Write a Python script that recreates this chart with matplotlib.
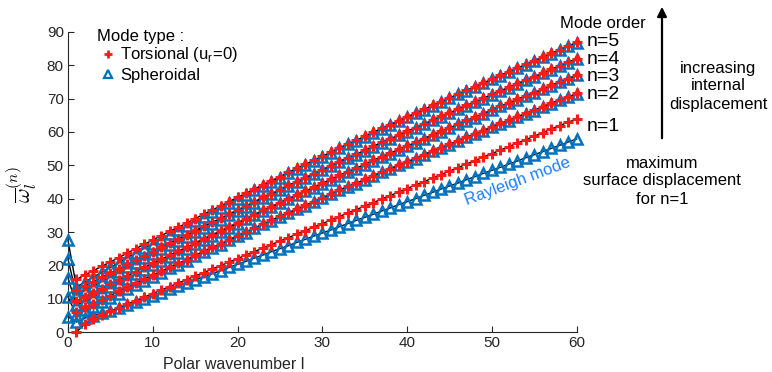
import numpy as np
import matplotlib
matplotlib.use("Agg")
import matplotlib.pyplot as plt
from matplotlib.lines import Line2D

plt.rcParams['font.family'] = ['Liberation Sans', 'DejaVu Sans']
plt.rcParams['mathtext.fontset'] = 'custom'
plt.rcParams['mathtext.rm'] = 'Liberation Sans'

# ---- data ----
l_sph = list(range(0, 61))      # spheroidal modes exist from l = 0
l_tor = list(range(1, 61))      # torsional modes from l = 1

tor_n1 = [0, 2.4, 3.9, 5.2, 6.3, 7.3, 8.4, 9.4, 10.5, 11.5, 12.6, 13.6, 14.7, 15.7, 16.8, 17.8,
          18.9, 19.9, 21.0, 22.0, 23.1, 24.1, 25.2, 26.2, 27.3, 28.3, 29.4, 30.4, 31.5, 32.5,
          33.6, 34.6, 35.7, 36.7, 37.8, 38.8, 39.9, 40.9, 42.0, 43.0, 44.1, 45.1, 46.2, 47.2,
          48.3, 49.3, 50.4, 51.4, 52.5, 53.5, 54.6, 55.6, 56.7, 57.7, 58.8, 59.8, 60.9, 61.9,
          63.0, 63.8]
tor_n2 = [6.1, 7.4, 8.4, 9.7, 10.9, 12.2, 13.4, 14.6, 15.9, 17.1, 18.2, 19.5, 20.6, 21.7, 23.0,
          24.2, 25.4, 26.4, 27.7, 28.9, 30.0, 31.2, 32.4, 33.5, 34.7, 35.8, 36.9, 38.0, 39.1,
          40.3, 41.4, 42.6, 43.7, 44.6, 45.8, 46.9, 48.0, 49.0, 50.1, 51.1, 52.1, 53.2, 54.4,
          55.3, 56.3, 57.4, 58.5, 59.4, 60.4, 61.6, 62.6, 63.5, 64.6, 65.6, 66.5, 67.6, 68.6,
          69.7, 70.5, 71.6]
tor_n3 = [9.3, 10.6, 11.7, 13.0, 14.3, 15.6, 16.8, 18.1, 19.4, 20.6, 21.8, 23.1, 24.3, 25.4,
          26.7, 28.0, 29.2, 30.3, 31.6, 32.8, 34.0, 35.2, 36.5, 37.6, 38.8, 40.0, 41.1, 42.3,
          43.4, 44.6, 45.8, 47.0, 48.1, 49.1, 50.3, 51.5, 52.6, 53.6, 54.8, 55.8, 56.9, 58.0,
          59.2, 60.2, 61.2, 62.4, 63.5, 64.4, 65.5, 66.7, 67.8, 68.7, 69.8, 70.9, 71.8, 72.9,
          74.0, 75.1, 76.0, 77.1]
tor_n4 = [12.6, 13.9, 15.1, 16.4, 17.7, 19.0, 20.3, 21.6, 22.9, 24.1, 25.4, 26.7, 27.9, 29.1,
          30.4, 31.7, 32.9, 34.1, 35.4, 36.6, 37.8, 39.1, 40.4, 41.5, 42.7, 44.0, 45.1, 46.3,
          47.5, 48.7, 49.9, 51.1, 52.3, 53.3, 54.5, 55.7, 56.9, 57.9, 59.1, 60.2, 61.3, 62.4,
          63.6, 64.7, 65.7, 66.9, 68.0, 69.0, 70.1, 71.3, 72.4, 73.4, 74.5, 75.6, 76.6, 77.7,
          78.8, 79.9, 80.9, 82.0]
tor_n5 = [15.8, 17.1, 18.4, 19.7, 21.0, 22.3, 23.7, 25.0, 26.3, 27.6, 28.9, 30.2, 31.4, 32.7,
          34.0, 35.3, 36.6, 37.8, 39.1, 40.4, 41.6, 42.9, 44.2, 45.4, 46.6, 47.9, 49.1, 50.3,
          51.5, 52.7, 54.0, 55.2, 56.4, 57.5, 58.7, 59.9, 61.1, 62.2, 63.4, 64.5, 65.7, 66.8,
          68.0, 69.1, 70.2, 71.4, 72.5, 73.6, 74.7, 75.9, 77.0, 78.1, 79.2, 80.3, 81.4, 82.5,
          83.6, 84.7, 85.8, 86.9]

sph_n1 = [4.6, 3.0, 4.2, 4.9, 5.6, 6.2, 7.1, 8.1, 9.0, 10.0, 10.9, 11.8, 12.8, 13.7, 14.7, 15.6,
          16.5, 17.5, 18.4, 19.4, 20.3, 21.2, 22.2, 23.1, 24.1, 25.0, 25.9, 26.9, 27.8, 28.8,
          29.7, 30.6, 31.6, 32.5, 33.5, 34.4, 35.3, 36.3, 37.2, 38.2, 39.1, 40.0, 41.0, 41.9,
          42.9, 43.8, 44.7, 45.7, 46.6, 47.6, 48.5, 49.4, 50.4, 51.3, 52.3, 53.2, 54.1, 55.1,
          56.0, 57.0, 57.9]
sph_n2 = [10.6, 5.1, 6.5, 7.6, 8.9, 10.2, 11.5, 12.8, 14.0, 15.4, 16.6, 17.8, 19.1, 20.2, 21.4,
          22.7, 23.9, 25.1, 26.2, 27.5, 28.7, 29.8, 31.1, 32.3, 33.4, 34.6, 35.7, 36.8, 37.9,
          39.0, 40.2, 41.3, 42.5, 43.6, 44.5, 45.7, 46.8, 47.9, 48.9, 50.0, 51.0, 52.0, 53.1,
          54.3, 55.2, 56.2, 57.3, 58.4, 59.3, 60.3, 61.5, 62.5, 63.4, 64.5, 65.5, 66.4, 67.5,
          68.5, 69.6, 70.4, 71.5]
sph_n3 = [16.3, 8.0, 9.4, 10.6, 12.0, 13.4, 14.7, 16.0, 17.4, 18.7, 20.0, 21.2, 22.6, 23.8, 25.0,
          26.3, 27.6, 28.9, 30.0, 31.3, 32.5, 33.8, 35.1, 36.4, 37.5, 38.7, 39.9, 41.0, 42.2,
          43.3, 44.5, 45.7, 46.9, 48.0, 49.0, 50.2, 51.4, 52.5, 53.5, 54.7, 55.7, 56.8, 57.9,
          59.1, 60.1, 61.1, 62.3, 63.4, 64.3, 65.4, 66.6, 67.7, 68.6, 69.7, 70.8, 71.7, 72.8,
          73.9, 75.0, 75.9, 77.0]
sph_n4 = [21.9, 11.1, 12.5, 13.8, 15.2, 16.6, 18.0, 19.4, 20.8, 22.1, 23.4, 24.8, 26.1, 27.3,
          28.6, 29.9, 31.3, 32.5, 33.7, 35.1, 36.3, 37.5, 38.8, 40.2, 41.3, 42.5, 43.9, 45.0,
          46.2, 47.4, 48.6, 49.8, 51.0, 52.2, 53.2, 54.4, 55.6, 56.8, 57.8, 59.0, 60.1, 61.2,
          62.3, 63.5, 64.6, 65.6, 66.8, 67.9, 68.9, 70.0, 71.2, 72.3, 73.3, 74.4, 75.5, 76.5,
          77.6, 78.7, 79.8, 80.8, 81.9]
sph_n5 = [27.6, 13.5, 15.0, 16.5, 17.9, 19.4, 20.8, 22.3, 23.7, 25.1, 26.5, 27.9, 29.3, 30.6,
          31.9, 33.3, 34.6, 36.0, 37.2, 38.6, 39.9, 41.2, 42.5, 43.8, 45.1, 46.3, 47.6, 48.8,
          50.1, 51.3, 52.5, 53.8, 55.1, 56.3, 57.4, 58.6, 59.8, 61.0, 62.1, 63.3, 64.4, 65.6,
          66.7, 67.9, 69.0, 70.1, 71.3, 72.4, 73.5, 74.6, 75.8, 76.9, 78.0, 79.1, 80.2, 81.3,
          82.4, 83.5, 84.6, 85.7, 86.8]

sph = [sph_n1, sph_n2, sph_n3, sph_n4, sph_n5]
tor = [tor_n1, tor_n2, tor_n3, tor_n4, tor_n5]
order_labels = ["n=1", "n=2", "n=3", "n=4", "n=5"]
order_label_y = [61.5, 71.1, 76.5, 81.7, 87.0]

BLUE = "#0072BD"
RED = "#FF1A1A"

# ---- plot ----
fig = plt.figure(figsize=(7.72, 3.72), dpi=100)
ax = fig.add_axes([0.088, 0.1075, 0.659, 0.8065])

for s in sph:
    ax.plot(l_sph, s, "-", color="k", lw=1.0, zorder=2, clip_on=False)
    ax.plot(l_sph, s, "^", ls="none", ms=7, mfc="none", mec=BLUE, mew=1.8,
            zorder=3, clip_on=False)
for t in tor:
    ax.plot(l_tor, t, "-", color="k", lw=1.0, zorder=2, clip_on=False)
    ax.plot(l_tor, t, "+", ls="none", ms=6.5, mec=RED, mew=2.2, zorder=4, clip_on=False)

ax.set_xlim(0, 60)
ax.set_ylim(0, 90)
ax.set_xticks(range(0, 61, 10))
ax.set_yticks(range(0, 91, 10))
ax.tick_params(direction="in", length=4, labelsize=11, colors="#262626", pad=3)
for side in ("top", "right"):
    ax.spines[side].set_visible(False)
for side in ("left", "bottom"):
    ax.spines[side].set_color("#262626")
ax.set_xlabel("Polar wavenumber l", fontsize=11.5, color="#262626")
ax.xaxis.set_label_coords(0.326, -0.083)
ax.set_ylabel(r"$\overline{\omega}_l^{(n)}$", fontsize=16, math_fontfamily="cm")
ax.yaxis.set_label_coords(-0.057, 0.49)

# legend
ax.text(0.057, 0.985, "Mode type :", transform=ax.transAxes, fontsize=12,
        ha="left", va="center")
handles = [Line2D([], [], ls="none", marker="+", ms=6, mec=RED, mew=2.0),
           Line2D([], [], ls="none", marker="^", ms=6, mfc="none", mec=BLUE, mew=1.6)]
ax.legend(handles, [r"Torsional (u$_\mathrm{r}$=0)", "Spheroidal"], loc="upper left",
          bbox_to_anchor=(0.065, 0.955), frameon=False, fontsize=12, handlelength=0.8,
          handletextpad=0.35, borderpad=0, borderaxespad=0, labelspacing=0.2)

# mode-order labels and notes
for lab, yv in zip(order_labels, order_label_y):
    ax.text(61.2, yv, lab, fontsize=14, ha="left", va="center", clip_on=False)
fig.text(603 / 772, 1 - 23 / 372, "Mode order", fontsize=12, ha="center", va="center")
ax.text(53.0, 45.2, "Rayleigh mode", color="#1E7FFF", fontsize=12, rotation=20.5,
        ha="center", va="center")

ax.annotate("", xy=(662 / 772, 1 - 4 / 372), xytext=(662 / 772, 1 - 141 / 372),
            xycoords="figure fraction", textcoords="figure fraction",
            arrowprops=dict(arrowstyle="-|>", color="k", lw=1.6, mutation_scale=14))
fig.text(718 / 772, 1 - 86 / 372, "increasing\ninternal\ndisplacement", fontsize=12,
         ha="center", va="center", linespacing=1.25)
fig.text(662 / 772, 1 - 181 / 372, "maximum\nsurface displacement\nfor n=1", fontsize=12,
         ha="center", va="center", linespacing=1.25)

fig.savefig("out.png", dpi=100)
